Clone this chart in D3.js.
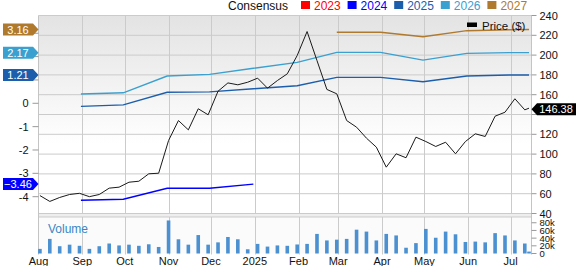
<!DOCTYPE html>
<html>
<head>
<meta charset="utf-8">
<script src="https://cdn.jsdelivr.net/npm/d3@7"></script>
<style>
  body { margin: 0; background: #fff; }
  svg { display: block; font-family: "Liberation Sans", Arial, sans-serif; }
</style>
</head>
<body>
<svg id="chart" width="576" height="266"></svg>
<script>
// weekly closes (Fri), last point is the current day
let weeks = ["2024-08-02","2024-08-09","2024-08-16","2024-08-23","2024-08-30",
    "2024-09-06","2024-09-13","2024-09-20","2024-09-27",
    "2024-10-04","2024-10-11","2024-10-18","2024-10-25",
    "2024-11-01","2024-11-08","2024-11-15","2024-11-22","2024-11-29",
    "2024-12-06","2024-12-13","2024-12-20","2024-12-27",
    "2025-01-03","2025-01-10","2025-01-17","2025-01-24","2025-01-31",
    "2025-02-07","2025-02-14","2025-02-21","2025-02-28",
    "2025-03-07","2025-03-14","2025-03-21","2025-03-28",
    "2025-04-04","2025-04-11","2025-04-18","2025-04-25",
    "2025-05-02","2025-05-09","2025-05-16","2025-05-23","2025-05-30",
    "2025-06-06","2025-06-13","2025-06-20","2025-06-27",
    "2025-07-04","2025-07-11","2025-07-14"]
let price = [58.1, 52.2, 56.2, 59.2, 60.4, 57.0, 59.2, 65.6, 66.6, 71.6, 72.6, 80.1, 80.7,
    113.7, 133.9, 124.5, 145.8, 139.7, 163.5, 171.9, 170.0, 172.6, 176.7, 166.6, 174.3,
    181.1, 199.6, 223.8, 194.5, 165.3, 160.9, 133.9, 127.2, 116.1, 107.0, 86.8, 100.3,
    96.3, 117.1, 112.7, 107.7, 112.0, 100.3, 112.7, 120.5, 117.8, 138.3, 142.3, 155.9,
    144.7, 146.38]
// volume in thousands
let volume = [12, 38, 19, 23, 20, 12, 19, 26, 21, 23, 20, 24, 17, 86, 37, 23, 48, 23, 29,
    43, 37, 11, 25, 18, 21, 20, 23.5, 25, 51, 34, 36, 38, 62, 57, 34, 51, 47, 15, 27, 64,
    41, 57, 50, 30, 31, 29, 53, 47, 34, 26, 5]

// consensus EPS, month-end readings
let epsDates = ["2024-08-31","2024-09-30","2024-10-31","2024-11-30","2024-12-31",
    "2025-01-31","2025-02-28","2025-03-31","2025-04-30","2025-05-31","2025-06-30","2025-07-14"]
let eps2024 = [-4.15, -4.11, -3.64, -3.64, -3.46, null, null, null, null, null, null, null]
let eps2025 = [-0.13, -0.07, 0.47, 0.49, 0.62, 0.75, 1.11, 1.11, 0.92, 1.17, 1.21, 1.21]
let eps2026 = [0.40, 0.45, 1.17, 1.24, 1.50, 1.75, 2.18, 2.18, 1.85, 2.14, 2.17, 2.17]
let eps2027 = [null, null, null, null, null, null, 3.04, 3.04, 2.85, 3.11, 3.15, 3.16]

let legendYears = ["2023", "2024", "2025", "2026", "2027"]
let yearColors = ["#ff0000", "#0000ff", "#1c5eab", "#3aa0cf", "#b07a2e"]

let priceTicks = [240, 220, 200, 180, 160, 140, 120, 100, 80, 60, 40]
let epsTicks = [3, 2, 1, 0, -1, -2, -3, -4]
let volTicks = [80, 60, 40, 20, 0]
let monthLabels = ["Aug","Sep","Oct","Nov","Dec","2025","Feb","Mar","Apr","May","Jun","Jul"]

let parse = d3.timeParse("%Y-%m-%d")
let left = 38.5, right = 531.5
let pTop = 15.5, pBottom = 213.5
let vTop = 217, vBottom = 253.5

let xScale = d3.scaleTime()
    .domain([new Date(2024, 7, 1), new Date(2025, 6, 15, 18)])
    .range([left, right])
let yPrice = d3.scaleLinear().domain([40, 240]).range([pBottom, pTop])
let yEps = d3.scaleLinear().domain([-4.72, 3.76]).range([pBottom, pTop])
let yVol = d3.scaleLinear().domain([0, 95]).range([vBottom, vTop])

let months = d3.timeMonth.range(new Date(2024, 7, 1), new Date(2025, 7, 1))

let svg = d3.select("#chart")

let grad = svg.append("defs").append("linearGradient")
    .attr("id", "bg").attr("x1", 0).attr("y1", 0).attr("x2", 0).attr("y2", 1)
grad.append("stop").attr("offset", "0%").attr("stop-color", "#e3e3e3")
grad.append("stop").attr("offset", "65%").attr("stop-color", "#ffffff")

svg.append("rect")
    .attr("x", left).attr("y", pTop)
    .attr("width", right - left).attr("height", pBottom - pTop)
    .attr("fill", "url(#bg)")
svg.append("rect")
    .attr("x", left).attr("y", vTop)
    .attr("width", right - left).attr("height", vBottom - vTop)
    .attr("fill", "#fbfbfb")

let grid = svg.append("g").attr("stroke", "#cbcbcb").attr("stroke-width", 1)
grid.selectAll(".hg").data(priceTicks).join("line")
    .attr("x1", left).attr("x2", right)
    .attr("y1", d => yPrice(d)).attr("y2", d => yPrice(d))
grid.selectAll(".vg").data(months.slice(1)).join("line")
    .attr("x1", d => Math.round(xScale(d)) + 0.5).attr("x2", d => Math.round(xScale(d)) + 0.5)
    .attr("y1", pTop).attr("y2", vBottom + 1)

// band between the two panels
svg.append("rect")
    .attr("x", left).attr("y", pBottom)
    .attr("width", right - left).attr("height", vTop - pBottom)
    .attr("fill", "#eeeeee").attr("stroke", "#cbcbcb")

svg.append("line").attr("x1", left).attr("x2", left).attr("y1", pTop).attr("y2", vBottom + 1)
    .attr("stroke", "#c4c4c4")
svg.append("line").attr("x1", right).attr("x2", right).attr("y1", pTop).attr("y2", vBottom + 1)
    .attr("stroke", "#c4c4c4")

// volume bars
svg.append("g").selectAll("rect").data(volume).join("rect")
    .attr("x", (d, i) => xScale(parse(weeks[i])) - 1.8)
    .attr("width", 3.6)
    .attr("y", d => yVol(d))
    .attr("height", d => yVol(0) - yVol(d))
    .attr("fill", "#4b90d1")

svg.append("text").text("Volume")
    .attr("x", 48).attr("y", 233)
    .attr("font-size", 12).attr("fill", "#3a85c6")

// consensus lines
let epsSeries = [[eps2024, 1], [eps2025, 2], [eps2026, 3], [eps2027, 4]]
let epsLine = d3.line()
    .defined(d => d.v != null)
    .x(d => xScale(d.date))
    .y(d => yEps(d.v))
epsSeries.forEach(function(s) {
    let pts = s[0].map((v, i) => ({date: parse(epsDates[i]), v: v}))
    svg.append("path")
        .datum(pts)
        .attr("d", epsLine)
        .attr("fill", "none")
        .attr("stroke", yearColors[s[1]])
        .attr("stroke-width", 1.4)
})

// price line
let priceLine = d3.line()
    .x((d, i) => xScale(parse(weeks[i])))
    .y(d => yPrice(d))
svg.append("path")
    .datum(price)
    .attr("d", priceLine)
    .attr("fill", "none")
    .attr("stroke", "#1a1a1a")
    .attr("stroke-width", 1)

// right axis (price)
let rAxis = svg.append("g").attr("font-size", 11).attr("fill", "#111")
rAxis.selectAll("line").data(priceTicks).join("line")
    .attr("x1", right).attr("x2", right + 5)
    .attr("y1", d => yPrice(d)).attr("y2", d => yPrice(d))
    .attr("stroke", "#999")
rAxis.selectAll("text").data(priceTicks.filter(d => d != 140)).join("text")
    .text(d => d)
    .attr("x", right + 8).attr("y", d => yPrice(d) + 4)

// volume axis, labels packed tight like the source
let vAxis = svg.append("g").attr("font-size", 9.5).attr("fill", "#111")
vAxis.selectAll("line").data(volTicks).join("line")
    .attr("x1", right).attr("x2", right + 5)
    .attr("y1", d => yVol(d)).attr("y2", d => yVol(d))
    .attr("stroke", "#999")
vAxis.selectAll("text").data(volTicks).join("text")
    .text(d => d == 0 ? "0" : d + "k")
    .attr("x", right + 8).attr("y", d => yVol(d) + 3.5)

// left axis (EPS); labels 1..3 sit under the flags
let lAxis = svg.append("g").attr("font-size", 11).attr("fill", "#111")
lAxis.selectAll("line").data(epsTicks).join("line")
    .attr("x1", left - 6).attr("x2", left)
    .attr("y1", d => yEps(d)).attr("y2", d => yEps(d))
    .attr("stroke", "#999")
lAxis.selectAll("text").data(epsTicks.filter(d => d <= 0)).join("text")
    .text(d => d)
    .attr("text-anchor", "end")
    .attr("x", left - 10).attr("y", d => yEps(d) + 4)

// bottom axis
svg.append("g").selectAll("text").data(months).join("text")
    .text((d, i) => monthLabels[i])
    .attr("text-anchor", "middle")
    .attr("x", d => Math.max(xScale(d), 31))
    .attr("y", 265)
    .attr("font-size", 11).attr("fill", "#111")

// EPS flags on left
let flags = [[eps2027, 4], [eps2026, 3], [eps2025, 2], [eps2024, 1]]
flags.forEach(function(f) {
    let vals = f[0].filter(v => v != null)
    let last = vals[vals.length - 1]
    let c = yEps(last)
    svg.append("path")
        .attr("d", "M3," + (c - 6) + "H33L" + left + "," + c + "L33," + (c + 6) + "H3Z")
        .attr("fill", yearColors[f[1]])
    svg.append("text").text(d3.format(".2f")(last))
        .attr("x", 18).attr("y", c + 4)
        .attr("text-anchor", "middle")
        .attr("font-size", 11).attr("fill", "#fff")
})

// last price flag on right
let lastPrice = price[price.length - 1]
let pc = yPrice(lastPrice) + 1
svg.append("path")
    .attr("d", "M" + right + "," + pc + "L537," + (pc - 6) + "H576V" + (pc + 6) + "H537Z")
    .attr("fill", "#000")
svg.append("text").text(d3.format(".2f")(lastPrice))
    .attr("x", 556).attr("y", pc + 4)
    .attr("text-anchor", "middle")
    .attr("font-size", 11).attr("fill", "#fff")

// price legend
svg.append("rect").attr("x", 467).attr("y", 22.5).attr("width", 10).attr("height", 4.5)
    .attr("fill", "#000")
svg.append("text").text("Price ($)")
    .attr("x", 482).attr("y", 29.5)
    .attr("font-size", 11.5).attr("fill", "#111")

// consensus legend on top
svg.append("text").text("Consensus")
    .attr("x", 228).attr("y", 9.5)
    .attr("font-size", 12).attr("fill", "#111")
let leg = svg.append("g").selectAll("g").data(legendYears).join("g")
    .attr("transform", (d, i) => "translate(" + (301 + i * 46.6) + ",0)")
leg.append("rect").attr("x", 0).attr("y", 1).attr("width", 9).attr("height", 8)
    .attr("fill", (d, i) => yearColors[i])
leg.append("text").text(d => d)
    .attr("x", 13).attr("y", 9.5)
    .attr("font-size", 12)
    .attr("fill", (d, i) => yearColors[i])
</script>
</body>
</html>
